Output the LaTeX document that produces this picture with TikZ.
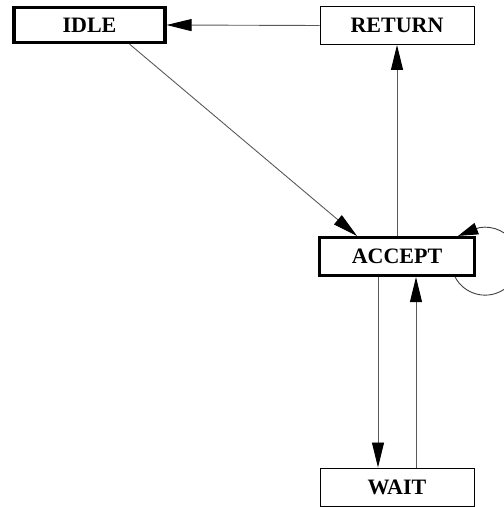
\documentclass[tikz,border=0pt]{standalone}
\usepackage{fontspec}
\setmainfont{Liberation Serif}
\usetikzlibrary{arrows.meta}
\tikzset{
  state/.style={draw, rectangle, minimum width=154pt, minimum height=38pt,
    inner sep=0pt, font=\fontsize{22}{26}\selectfont\bfseries, line width=0.9pt},
  heavy/.style={line width=3.2pt},
  link/.style={draw=black!65, line width=0.9pt,
    -{Triangle[length=25pt,width=12pt,fill=black,color=black]}},
  looplink/.style={draw=black!75, line width=0.9pt,
    -{Triangle[length=20pt,width=12pt,fill=black,color=black]}}
}
\begin{document}
\begin{tikzpicture}[x=1pt,y=1pt]
  \useasboundingbox (0,0) rectangle (504,507);
  \node[state,heavy,minimum width=151pt,minimum height=35pt] (idle) at (89.5,482) {IDLE};
  \node[state] (ret) at (397,481.5) {RETURN};
  \node[state,heavy,minimum width=155pt,minimum height=38pt] (acc) at (397,250.5) {ACCEPT};
  \node[state] (wait) at (397,20) {WAIT};

  \coordinate (loopstart) at ([xshift=-21pt]acc.south east);
  \coordinate (looptip) at ([xshift=-18pt]acc.north east);

  \draw[link] (ret.west) -- (idle.east);
  \draw[link] ([xshift=40pt]idle.south) -- ([xshift=-40pt]acc.north);
  \draw[link] (acc.north) -- (ret.south);
  \draw[link] ([xshift=-19pt]acc.south) -- ([xshift=-19pt]wait.north);
  \draw[link] ([xshift=19pt]wait.north) -- ([xshift=19pt]acc.south);
  \draw[looplink] (loopstart) arc[start angle=-152, end angle=100, radius=34] -- (looptip);
\end{tikzpicture}
\end{document}
